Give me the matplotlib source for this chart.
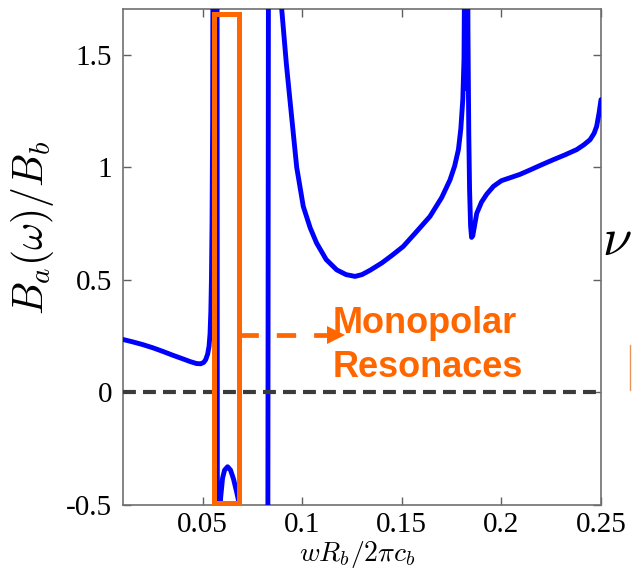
import matplotlib
matplotlib.use("Agg")
import matplotlib.pyplot as plt
from matplotlib.patches import Rectangle
from matplotlib.lines import Line2D

plt.rcParams["mathtext.fontset"] = "cm"

# normalised frequency  w R_b / (2 pi c_b)
freq = [0.0100, 0.0150, 0.0200, 0.0250, 0.0300, 0.0350, 0.0400, 0.0440, 0.0470,
        0.0490, 0.0505, 0.0515, 0.0525, 0.0532, 0.0537, 0.0541, 0.0544, 0.0547,
        0.0550, 0.0553, 0.0572, 0.0575, 0.0580, 0.0585, 0.0590, 0.0600, 0.0610,
        0.0625, 0.0640, 0.0655, 0.0670, 0.0680, 0.0690, 0.0710, 0.0750, 0.0800,
        0.0825, 0.0831, 0.0860, 0.0897, 0.0920, 0.0938, 0.0955, 0.0972, 0.1005,
        0.1040, 0.1072, 0.1120, 0.1173, 0.1220, 0.1265, 0.1300, 0.1340, 0.1400,
        0.1450, 0.1507, 0.1570, 0.1641, 0.1700, 0.1742, 0.1765, 0.1784, 0.1796,
        0.1806, 0.1812, 0.1816, 0.1819, 0.1822, 0.1825, 0.1828, 0.1832, 0.1836,
        0.1840, 0.1845, 0.1850, 0.1856, 0.1866, 0.1876, 0.1900, 0.1926, 0.1960,
        0.2000, 0.2050, 0.2093, 0.2150, 0.2200, 0.2260, 0.2320, 0.2378, 0.2415,
        0.2445, 0.2465, 0.2478, 0.2490, 0.2500]

# field ratio  B_a(w) / B_b
ratio = [0.235, 0.224, 0.212, 0.198, 0.182, 0.165, 0.149, 0.136, 0.128,
         0.127, 0.133, 0.145, 0.170, 0.205, 0.260, 0.360, 0.500, 0.750,
         1.200, 2.500, 2.500, -2.500, -0.950, -0.620, -0.470, -0.380, -0.345,
         -0.330, -0.345, -0.385, -0.440, -0.480, -0.530, -0.650, -0.950, -1.600,
         -2.500, 2.500, 2.200, 1.700, 1.460, 1.300, 1.150, 1.000, 0.826,
         0.730, 0.663, 0.590, 0.544, 0.523, 0.515, 0.523, 0.542, 0.575,
         0.608, 0.648, 0.710, 0.781, 0.865, 0.944, 1.005, 1.078, 1.170,
         1.300, 1.480, 2.000, 2.500, 1.350, 2.500, 2.500, 1.600, 1.150,
         0.900, 0.740, 0.688, 0.695, 0.745, 0.795, 0.845, 0.880, 0.915,
         0.940, 0.955, 0.968, 0.990, 1.010, 1.033, 1.055, 1.078, 1.100,
         1.122, 1.150, 1.181, 1.240, 1.300]

x_ticks = [0.05, 0.1, 0.15, 0.2, 0.25]
x_tick_labels = ["0.05", "0.1", "0.15", "0.2", "0.25"]
y_ticks = [-0.5, 0, 0.5, 1, 1.5]
y_tick_labels = ["-0.5", "0", "0.5", "1", "1.5"]

# monopolar resonance window
band_lo, band_hi = 0.0559, 0.0680
band_bottom, band_top = -0.489, 1.678

ORANGE = "#ff6600"

fig = plt.figure(figsize=(6.34, 5.72), dpi=100)
ax = fig.add_axes([0.194, 0.1171, 0.754, 0.8663])

ax.plot(freq, ratio, color="#0000ff", lw=3.5, solid_joinstyle="round",
        solid_capstyle="round", zorder=3)
ax.axhline(0, color="#3a3a3a", lw=3.0, ls=(0, (3.1, 1.7)), zorder=4)

ax.add_patch(Rectangle((band_lo, band_bottom), band_hi - band_lo,
                       band_top - band_bottom, fill=False, edgecolor=ORANGE,
                       lw=3.6, zorder=5))

# dashed pointer from the window to the annotation
arrow_y = 0.2556
ax.plot([band_hi, 0.1124], [arrow_y, arrow_y], color=ORANGE, lw=3.4,
        ls=(0, (4.1, 3.8)), solid_capstyle="butt", zorder=5)
ax.plot([0.1170], [arrow_y], marker=">", ms=13, color=ORANGE, mew=0, zorder=5)

ax.text(0.1154, 0.2644, "Monopolar", color=ORANGE, fontsize=26,
        fontweight="bold", family="Liberation Sans", va="baseline", ha="left",
        zorder=6)
ax.text(0.1154, 0.0689, "Resonaces", color=ORANGE, fontsize=26,
        fontweight="bold", family="Liberation Sans", va="baseline", ha="left",
        zorder=6)

ax.set_xlim(0.01, 0.25)
ax.set_ylim(-0.5, 1.7)
ax.set_xticks(x_ticks)
ax.set_xticklabels(x_tick_labels)
ax.set_yticks(y_ticks)
ax.set_yticklabels(y_tick_labels)
ax.tick_params(direction="in", length=6, width=1, top=True, right=True,
               color="#606060", labelsize=21)
ax.tick_params(axis="x", pad=5)
ax.tick_params(axis="y", pad=8)
for lab in ax.get_xticklabels() + ax.get_yticklabels():
    lab.set_family("Liberation Serif")
for sp in ax.spines.values():
    sp.set_color("#707070")
    sp.set_linewidth(1.2)

ax.set_xlabel(r"$wR_b/2\pi c_b$", fontsize=20)
ax.xaxis.set_label_coords(0.49, -0.068, transform=ax.transAxes)
ax.xaxis.label.set_va("top")
ax.set_ylabel(r"$B_a(\omega)/B_b$", fontsize=30)
ax.yaxis.set_label_coords(-0.14, 0.56, transform=ax.transAxes)

# slide fragments at the right margin
fig.text(632 / 634, 1 - 240 / 572, r"$\nu$", fontsize=38, ha="right",
         va="center")
fig.add_artist(Line2D([630 / 634, 630 / 634], [1 - 345 / 572, 1 - 390 / 572],
                      color="#e8955c", lw=1.0))

fig.savefig("out.png", dpi=100)
